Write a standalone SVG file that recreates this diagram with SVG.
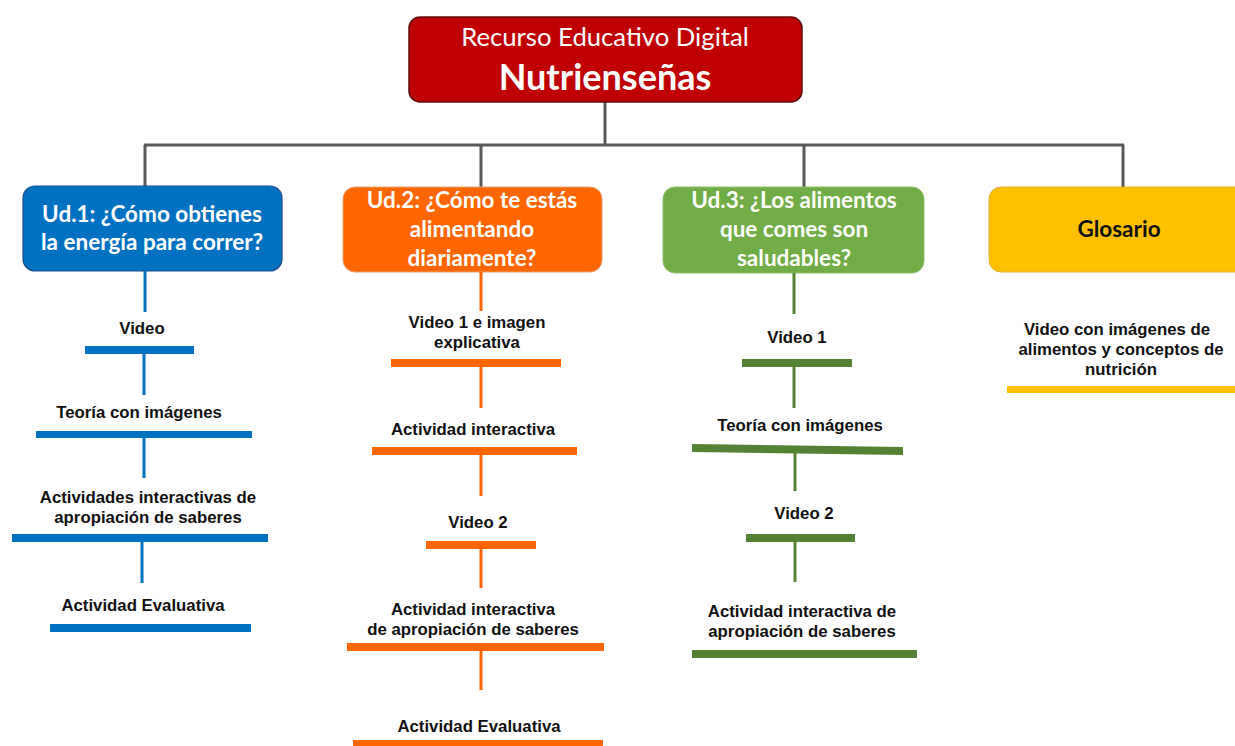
<svg xmlns="http://www.w3.org/2000/svg" width="1235" height="746" viewBox="0 0 1235 746">
<style>
.trunk{stroke:#595959;stroke-width:3;fill:none}
.hd{font-family:Lato,"Open Sans",sans-serif;font-weight:bold;font-size:22.5px;fill:#fff;text-anchor:middle}
.it{font-family:"Liberation Sans",Arial,sans-serif;font-weight:bold;font-size:16.8px;fill:#111;text-anchor:middle}
.b{stroke:#0070C0;stroke-width:3}
.o{stroke:#FF6600;stroke-width:3}
.g{stroke:#548235;stroke-width:3}
</style>
<rect width="1235" height="746" fill="#fff"/>
<g id="connectors" class="trunk">
<line x1="605" y1="102" x2="605" y2="145"/>
<line x1="144" y1="145" x2="1124" y2="145"/>
<line x1="145" y1="145" x2="145" y2="187"/>
<line x1="481" y1="145" x2="481" y2="188"/>
<line x1="804" y1="145" x2="804" y2="188"/>
<line x1="1123" y1="145" x2="1123" y2="188"/>
</g>
<g id="root">
<rect x="409" y="17" width="393" height="85" rx="11" fill="#C00000" stroke="#5a1010" stroke-width="1.5"/>
<text x="605" y="46" font-family="Lato,'Open Sans',sans-serif" font-size="25.7" fill="#fff" text-anchor="middle">Recurso Educativo Digital</text>
<text x="605" y="90" font-family="Lato,'Open Sans',sans-serif" font-weight="bold" font-size="36" fill="#fff" text-anchor="middle">Nutrienseñas</text>
</g>
<g id="ud1">
<rect x="23" y="186" width="259" height="85" rx="12" fill="#0070C0" stroke="#1f4e8c" stroke-width="1.2"/>
<text class="hd" x="152" y="222">Ud.1: ¿Cómo obtienes</text>
<text class="hd" x="152" y="250">la energía para correr?</text>
<g class="b">
<line x1="145" y1="271" x2="145" y2="312"/>
<line x1="144" y1="354" x2="144" y2="395"/>
<line x1="144" y1="438" x2="144" y2="478"/>
<line x1="142" y1="542" x2="142" y2="583"/>
</g>
<g fill="#0070C0">
<rect x="85" y="346" width="109" height="8"/>
<rect x="36" y="431" width="216" height="7"/>
<rect x="12" y="534" width="256" height="8"/>
<rect x="50" y="624" width="201" height="8"/>
</g>
<text class="it" x="142" y="334">Video</text>
<text class="it" x="139" y="418">Teoría con imágenes</text>
<text class="it" x="148" y="503">Actividades interactivas de</text>
<text class="it" x="148" y="523">apropiación de saberes</text>
<text class="it" x="143" y="611">Actividad Evaluativa</text>
</g>
<g id="ud2">
<rect x="343" y="187" width="259" height="85" rx="12" fill="#FF6600" stroke="#e8a070" stroke-width="1"/>
<text class="hd" x="472" y="208">Ud.2: ¿Cómo te estás</text>
<text class="hd" x="472" y="237">alimentando</text>
<text class="hd" x="472" y="266">diariamente?</text>
<g class="o">
<line x1="481" y1="272" x2="481" y2="311"/>
<line x1="481" y1="367" x2="481" y2="408"/>
<line x1="481" y1="455" x2="481" y2="496"/>
<line x1="481" y1="549" x2="481" y2="588"/>
<line x1="481" y1="651" x2="481" y2="690"/>
</g>
<g fill="#FF6600">
<rect x="391" y="359" width="170" height="8"/>
<rect x="372" y="447" width="205" height="8"/>
<rect x="426" y="541" width="110" height="8"/>
<rect x="347" y="643" width="257" height="8"/>
<rect x="353" y="740" width="250" height="8"/>
</g>
<text class="it" x="477" y="328">Video 1 e imagen</text>
<text class="it" x="477" y="348">explicativa</text>
<text class="it" x="473" y="435">Actividad interactiva</text>
<text class="it" x="478" y="528">Video 2</text>
<text class="it" x="473" y="615">Actividad interactiva</text>
<text class="it" x="473" y="635">de apropiación de saberes</text>
<text class="it" x="479" y="732">Actividad Evaluativa</text>
</g>
<g id="ud3">
<rect x="663" y="187" width="261" height="86" rx="12" fill="#70AD47" stroke="#8fc070" stroke-width="1"/>
<text class="hd" x="794" y="208">Ud.3: ¿Los alimentos</text>
<text class="hd" x="794" y="237">que comes son</text>
<text class="hd" x="794" y="266">saludables?</text>
<g class="g">
<line x1="794" y1="273" x2="794" y2="314"/>
<line x1="794" y1="367" x2="794" y2="408"/>
<line x1="795" y1="453" x2="795" y2="491"/>
<line x1="795" y1="542" x2="795" y2="582"/>
</g>
<g fill="#548235">
<rect x="742" y="359" width="110" height="8"/>
<polygon points="692,444 903,447 903,455 692,452"/>
<rect x="746" y="534" width="109" height="8"/>
<rect x="692" y="650" width="225" height="8"/>
</g>
<text class="it" x="797" y="343">Video 1</text>
<text class="it" x="800" y="431">Teoría con imágenes</text>
<text class="it" x="804" y="519">Video 2</text>
<text class="it" x="802" y="617">Actividad interactiva de</text>
<text class="it" x="802" y="637">apropiación de saberes</text>
</g>
<g id="glosario">
<rect x="989" y="187" width="270" height="85" rx="12" fill="#FFC000" stroke="#e0b040" stroke-width="1"/>
<text x="1119" y="237" font-family="Lato,'Open Sans',sans-serif" font-weight="bold" font-size="22.5" fill="#111" text-anchor="middle">Glosario</text>
<rect x="1007" y="386" width="228" height="7" fill="#FFC000"/>
<text class="it" x="1117" y="335">Video con imágenes de</text>
<text class="it" x="1121" y="355">alimentos y conceptos de</text>
<text class="it" x="1121" y="375">nutrición</text>
</g>
</svg>
